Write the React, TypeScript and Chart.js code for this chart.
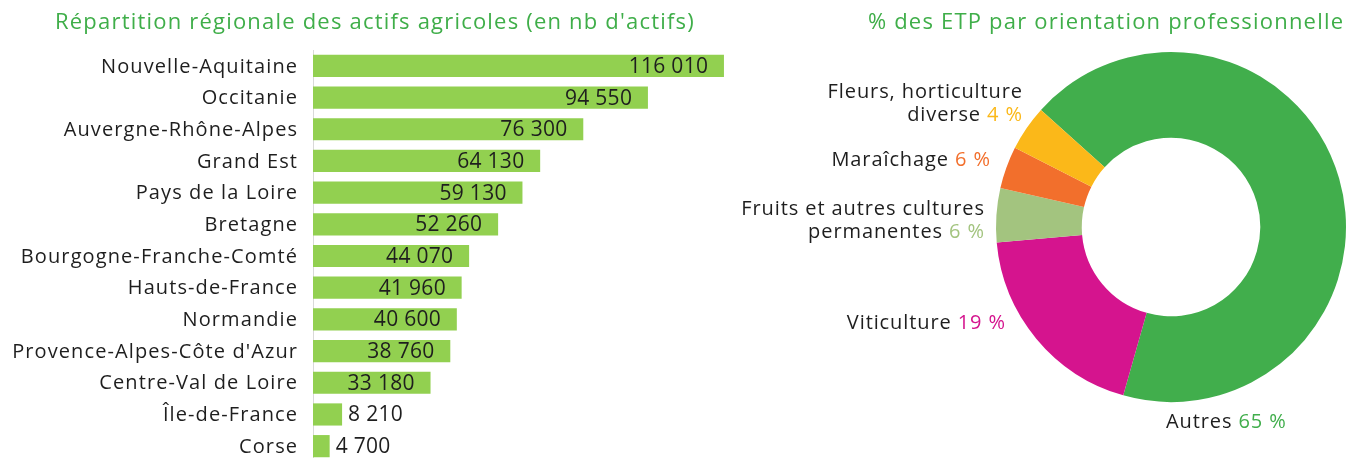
import React, { useEffect, useRef } from 'react';
import { Chart, registerables } from 'chart.js';

Chart.register(...registerables);

// ---- Data ----
const regions = [
  'Nouvelle-Aquitaine',
  'Occitanie',
  'Auvergne-Rhône-Alpes',
  'Grand Est',
  'Pays de la Loire',
  'Bretagne',
  'Bourgogne-Franche-Comté',
  'Hauts-de-France',
  'Normandie',
  "Provence-Alpes-Côte d'Azur",
  'Centre-Val de Loire',
  'Île-de-France',
  'Corse',
];
const actifs = [116010, 94550, 76300, 64130, 59130, 52260, 44070, 41960, 40600, 38760, 33180, 8210, 4700];

const orientations = ['Autres', 'Viticulture', 'Fruits et autres cultures permanentes', 'Maraîchage', 'Fleurs, horticulture diverse'];
// arc shares as drawn in the picture
const etpShares = [67.8, 19.2, 5.0, 3.9, 4.2];
// percentages as printed
const etpPercentLabels = ['65 %', '19 %', '6 %', '6 %', '4 %'];

const leftTitle = "Répartition régionale des actifs agricoles (en nb d'actifs)";
const rightTitle = '% des ETP par orientation professionnelle';

// ---- Styles ----
const FONT = "'Open Sans', 'DejaVu Sans', sans-serif";
const TITLE_GREEN = '#3fae49';
const TEXT = '#1e1e1e';
const BAR_GREEN = '#92d050';
const SEG_COLORS = ['#41ae4c', '#d5148e', '#a3c47f', '#f26f2c', '#fbb819'];
const LABEL_FONT = `20px ${FONT}`;
const LABEL_SPACING = '1.1px';
const TITLE_FONT = `22px ${FONT}`;
const TITLE_SPACING = '1.2px';

const fmt = (v: number) => String(v).replace(/\B(?=(\d{3})+(?!\d))/g, ' ');

function setSpacing(ctx: any, s: string) {
  if ('letterSpacing' in ctx) ctx.letterSpacing = s;
}

// right-aligned text with letter spacing (compensates trailing spacing)
function fillRight(ctx: any, txt: string, x: number, y: number) {
  const w = ctx.measureText(txt).width;
  ctx.textAlign = 'left';
  const sp = parseFloat(ctx.letterSpacing || '0') || 0;
  ctx.fillText(txt, x - w + sp, y);
}

const titlePlugin = {
  id: 'ownTitle',
  afterDraw(chart: any, _args: any, opts: any) {
    const ctx = chart.ctx;
    ctx.save();
    ctx.font = TITLE_FONT;
    setSpacing(ctx, TITLE_SPACING);
    ctx.fillStyle = TITLE_GREEN;
    ctx.textBaseline = 'middle';
    ctx.textAlign = 'left';
    const w = ctx.measureText(opts.text).width;
    if (opts.align === 'right') {
      fillRight(ctx, opts.text, chart.width - opts.right, opts.y);
    } else {
      ctx.fillText(opts.text, opts.x - w / 2, opts.y);
    }
    ctx.restore();
  },
};

const barLabelsPlugin = {
  id: 'barLabels',
  afterDatasetsDraw(chart: any) {
    const ctx = chart.ctx;
    const yScale = chart.scales.y;
    const meta = chart.getDatasetMeta(0);
    const data = chart.data.datasets[0].data as number[];
    ctx.save();
    ctx.textBaseline = 'middle';
    // category labels
    ctx.font = LABEL_FONT;
    setSpacing(ctx, LABEL_SPACING);
    ctx.fillStyle = TEXT;
    chart.data.labels.forEach((lab: string, i: number) => {
      fillRight(ctx, lab, chart.chartArea.left - 16, yScale.getPixelForValue(i) + 1);
    });
    // values
    ctx.font = `21px ${FONT}`;
    setSpacing(ctx, '0.3px');
    meta.data.forEach((bar: any, i: number) => {
      const txt = fmt(data[i]);
      const w = ctx.measureText(txt).width;
      const len = bar.x - bar.base;
      if (len > w + 24) {
        fillRight(ctx, txt, bar.x - 16, bar.y + 1);
      } else {
        ctx.textAlign = 'left';
        ctx.fillText(txt, bar.x + 6, bar.y + 1);
      }
    });
    ctx.restore();
  },
};

// label layout relative to doughnut centre
const donutLabelLayout: Array<{ dx: number; dy: number; align: 'left' | 'right'; lines: string[] }> = [
  { dx: -5, dy: 195, align: 'left', lines: ['Autres'] },
  { dx: -166, dy: 96, align: 'right', lines: ['Viticulture'] },
  { dx: -187, dy: -18, align: 'right', lines: ['Fruits et autres cultures', 'permanentes'] },
  { dx: -181, dy: -67, align: 'right', lines: ['Maraîchage'] },
  { dx: -149, dy: -135, align: 'right', lines: ['Fleurs, horticulture', 'diverse'] },
];

const donutLabelPlugin = {
  id: 'donutLabels',
  afterDraw(chart: any) {
    const ctx = chart.ctx;
    const arc = chart.getDatasetMeta(0).data[0];
    if (!arc) return;
    const cx = arc.x;
    const cy = arc.y;
    ctx.save();
    ctx.font = LABEL_FONT;
    setSpacing(ctx, '0.9px');
    ctx.textBaseline = 'middle';
    donutLabelLayout.forEach((lay, i) => {
      const pct = etpPercentLabels[i];
      const color = SEG_COLORS[i];
      lay.lines.forEach((line, li) => {
        const y = cy + lay.dy + li * 23.5;
        const x = cx + lay.dx;
        const isLast = li === lay.lines.length - 1;
        ctx.textAlign = 'left';
        if (!isLast) {
          ctx.fillStyle = TEXT;
          if (lay.align === 'right') fillRight(ctx, line, x, y);
          else ctx.fillText(line, x, y);
          return;
        }
        const namePart = line + ' ';
        const nw = ctx.measureText(namePart).width;
        const pw = ctx.measureText(pct).width;
        const sp = parseFloat(ctx.letterSpacing || '0') || 0;
        const startX = lay.align === 'right' ? x - nw - pw + sp : x;
        ctx.fillStyle = TEXT;
        ctx.fillText(namePart, startX, y);
        ctx.fillStyle = color;
        ctx.fillText(pct, startX + nw, y);
      });
    });
    ctx.restore();
  },
};

function BarChart() {
  const ref = useRef<HTMLCanvasElement>(null);
  useEffect(() => {
    const chart = new Chart(ref.current!, {
      type: 'bar',
      data: {
        labels: regions,
        datasets: [
          {
            data: actifs,
            backgroundColor: BAR_GREEN,
            borderWidth: 0,
            categoryPercentage: 1,
            barPercentage: 0.7,
          },
        ],
      },
      options: {
        indexAxis: 'y',
        responsive: false,
        animation: false,
        devicePixelRatio: 1,
        layout: { padding: { left: 0, right: 16, top: 50, bottom: 8 } },
        plugins: {
          legend: { display: false },
          tooltip: { enabled: false },
          title: { display: false },
          ownTitle: { text: leftTitle, x: 375, y: 23, align: 'center' },
        },
        scales: {
          x: { display: false, min: 0, max: 118000 },
          y: {
            grid: { display: false, drawTicks: false },
            border: { display: true, color: '#d9d9d9', width: 1 },
            ticks: { display: false },
            afterFit: (s: any) => {
              s.width = 313;
              s.paddingTop = 0;
              s.paddingBottom = 0;
            },
          },
        },
      },
      plugins: [barLabelsPlugin, titlePlugin],
    } as any);
    return () => chart.destroy();
  }, []);
  return <canvas ref={ref} width={747} height={470} style={{ position: 'absolute', left: 0, top: 0 }} />;
}

function DonutChart() {
  const ref = useRef<HTMLCanvasElement>(null);
  useEffect(() => {
    const chart = new Chart(ref.current!, {
      type: 'doughnut',
      data: {
        labels: orientations,
        datasets: [
          {
            data: etpShares,
            backgroundColor: SEG_COLORS,
            borderWidth: 0,
          },
        ],
      },
      options: {
        responsive: false,
        animation: false,
        devicePixelRatio: 1,
        cutout: '51%',
        rotation: 312,
        layout: { padding: { left: 271, right: 11, top: 52, bottom: 56 } },
        plugins: {
          legend: { display: false },
          tooltip: { enabled: false },
          title: { display: false },
          ownTitle: { text: rightTitle, right: 14, y: 23, align: 'right' },
        },
      },
      plugins: [donutLabelPlugin, titlePlugin],
    } as any);
    return () => chart.destroy();
  }, []);
  return <canvas ref={ref} width={632} height={458} style={{ position: 'absolute', left: 725, top: 0 }} />;
}

export default function App() {
  return (
    <div style={{ position: 'absolute', left: 0, top: 0, width: 1357, height: 458, overflow: 'hidden', background: '#fff' }}>
      <BarChart />
      <DonutChart />
    </div>
  );
}
